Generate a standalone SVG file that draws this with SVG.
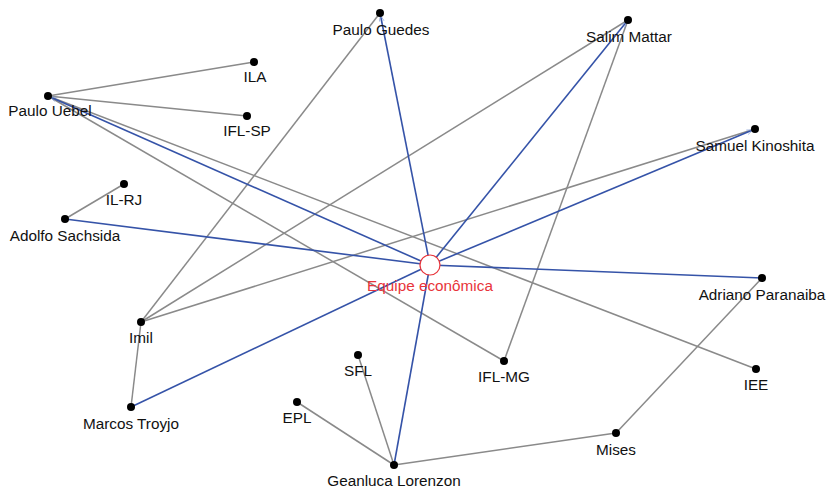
<svg xmlns="http://www.w3.org/2000/svg" width="830" height="489" viewBox="0 0 830 489">
<style>
.g{stroke:#8a8a8a;stroke-width:1.5;fill:none}
.b{stroke:#3553a8;stroke-width:1.6;fill:none}
.d{fill:#000}
text{font-family:"Liberation Sans",Arial,sans-serif;font-size:15.3px;fill:#111;text-anchor:middle}
.c text{fill:#e8343a}
</style>
<defs>
<marker id="ar" viewBox="0 0 10 10" refX="14" refY="5" markerWidth="6" markerHeight="6" orient="auto" markerUnits="userSpaceOnUse">
<path d="M0,1 L10,5 L0,9" fill="none" stroke="#8fa6d8" stroke-width="1.2"/>
</marker>
</defs>
<rect width="830" height="489" fill="#fff"/>
<g id="connectors">
<line class="g" x1="48" y1="96" x2="254" y2="62"/>
<line class="g" x1="48" y1="96" x2="247" y2="116"/>
<line class="g" x1="48" y1="96" x2="504" y2="361"/>
<line class="g" x1="48" y1="96" x2="756" y2="369"/>
<line class="g" x1="65" y1="219" x2="124" y2="184"/>
<line class="g" x1="141" y1="322" x2="380" y2="13"/>
<line class="g" x1="141" y1="322" x2="628" y2="20"/>
<line class="g" x1="141" y1="322" x2="755" y2="129"/>
<line class="g" x1="141" y1="322" x2="131" y2="407"/>
<line class="g" x1="628" y1="20" x2="504" y2="361"/>
<line class="g" x1="762" y1="278" x2="616" y2="433"/>
<line class="g" x1="394" y1="465" x2="358" y2="355"/>
<line class="g" x1="394" y1="465" x2="297" y2="402"/>
<line class="g" x1="394" y1="465" x2="616" y2="433"/>
<line class="b" x1="430" y1="265" x2="380" y2="13" marker-end="url(#ar)"/>
<line class="b" x1="430" y1="265" x2="628" y2="20" marker-end="url(#ar)"/>
<line class="b" x1="430" y1="265" x2="755" y2="129" marker-end="url(#ar)"/>
<line class="b" x1="430" y1="265" x2="48" y2="96" marker-end="url(#ar)"/>
<line class="b" x1="430" y1="265" x2="65" y2="219"/>
<line class="b" x1="430" y1="265" x2="762" y2="278"/>
<line class="b" x1="430" y1="265" x2="131" y2="407"/>
<line class="b" x1="430" y1="265" x2="394" y2="465"/>
</g>
<g id="paulo-guedes"><circle class="d" cx="380" cy="13" r="4"/><text x="381" y="35">Paulo Guedes</text></g>
<g id="salim-mattar"><circle class="d" cx="628" cy="20" r="4"/><text x="629" y="42">Salim Mattar</text></g>
<g id="ila"><circle class="d" cx="254" cy="62" r="4"/><text x="255" y="82">ILA</text></g>
<g id="paulo-uebel"><circle class="d" cx="48" cy="96" r="4"/><text x="50" y="116">Paulo Uebel</text></g>
<g id="ifl-sp"><circle class="d" cx="247" cy="116" r="4"/><text x="247" y="136">IFL-SP</text></g>
<g id="samuel-kinoshita"><circle class="d" cx="755" cy="129" r="4"/><text x="755" y="151">Samuel Kinoshita</text></g>
<g id="il-rj"><circle class="d" cx="124" cy="184" r="4"/><text x="124" y="205">IL-RJ</text></g>
<g id="adolfo-sachsida"><circle class="d" cx="65" cy="219" r="4"/><text x="65" y="241">Adolfo Sachsida</text></g>
<g id="equipe-economica" class="c"><circle cx="430" cy="265" r="10" fill="#fff" stroke="#e8343a" stroke-width="1.2"/><text x="430" y="291">Equipe econômica</text></g>
<g id="adriano-paranaiba"><circle class="d" cx="762" cy="278" r="4"/><text x="762" y="300">Adriano Paranaiba</text></g>
<g id="imil"><circle class="d" cx="141" cy="322" r="4"/><text x="141" y="343">Imil</text></g>
<g id="sfl"><circle class="d" cx="358" cy="355" r="4"/><text x="358" y="376">SFL</text></g>
<g id="ifl-mg"><circle class="d" cx="504" cy="361" r="4"/><text x="504" y="382">IFL-MG</text></g>
<g id="iee"><circle class="d" cx="756" cy="369" r="4"/><text x="756" y="390">IEE</text></g>
<g id="marcos-troyjo"><circle class="d" cx="131" cy="407" r="4"/><text x="131" y="429">Marcos Troyjo</text></g>
<g id="epl"><circle class="d" cx="297" cy="402" r="4"/><text x="297" y="423">EPL</text></g>
<g id="mises"><circle class="d" cx="616" cy="433" r="4"/><text x="616" y="455">Mises</text></g>
<g id="geanluca-lorenzon"><circle class="d" cx="394" cy="465" r="4"/><text x="394" y="486">Geanluca Lorenzon</text></g>
</svg>
